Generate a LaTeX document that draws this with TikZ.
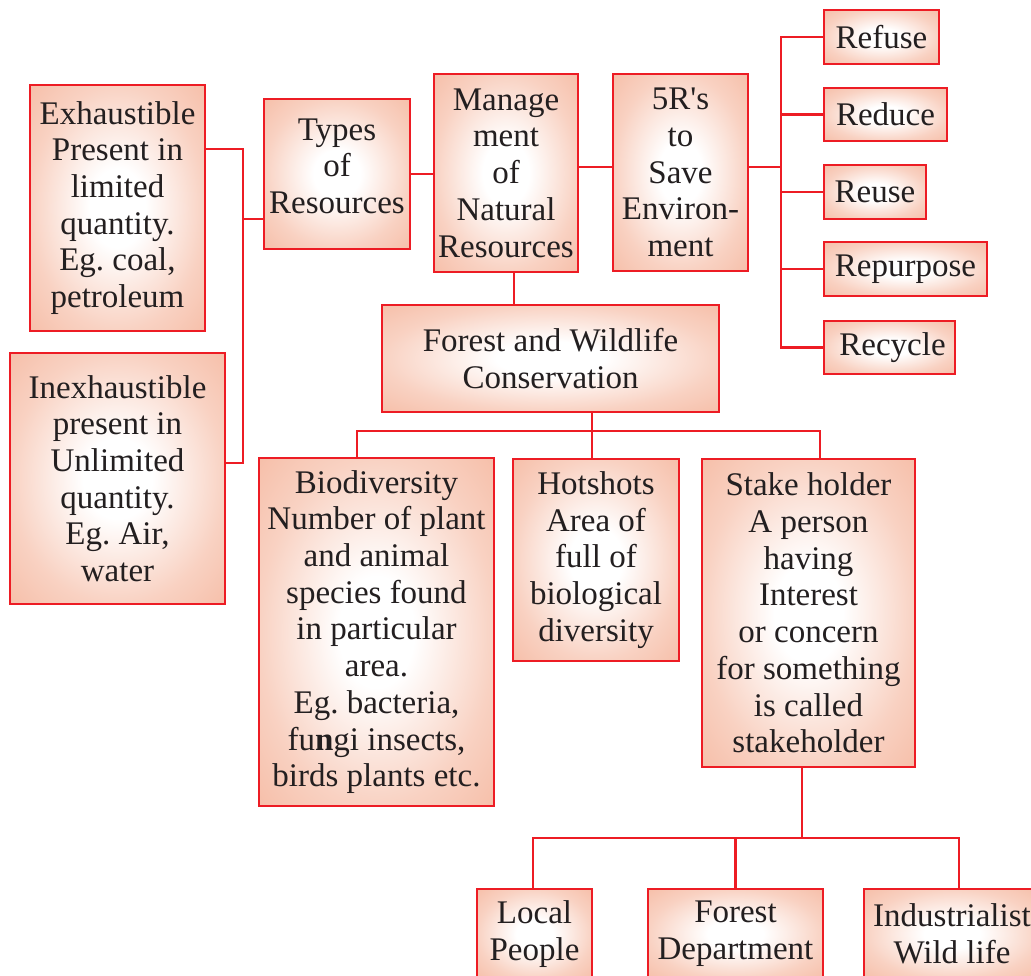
\documentclass[tikz,border=0pt]{standalone}
\usepackage{fontspec}
\setmainfont{Liberation Serif}[Ligatures=TeXOff]
\frenchspacing
\definecolor{lred}{RGB}{237,28,36}
\definecolor{salmon}{RGB}{246,190,168}
\definecolor{txt}{RGB}{35,31,32}
\pgfdeclareradialshading{boxshade}{\pgfpoint{0bp}{0bp}}{color(0bp)=(white); color(8bp)=(white); color(25bp)=(salmon!70!white); color(36bp)=(salmon); color(50bp)=(salmon)}
\tikzset{
  box/.style={draw=lred, line width=2.2pt, shade, shading=boxshade, inner sep=0pt, align=center, text=txt,
    font=\fontsize{33}{36.7}\selectfont},
  conn/.style={draw=lred, line width=2.2pt}
}
\begin{document}
\begin{tikzpicture}[x=1pt,y=-1pt]
\useasboundingbox (0,0) rectangle (1031,975);
\clip (0,0) rectangle (1031,975);
% nodes
\node[box, minimum width=175, minimum height=246] (exh) at (117.5,208) {Exhaustible\\Present in\\limited\\quantity.\\Eg. coal,\\petroleum};
\node[box, minimum width=215, minimum height=251] (inex) at (117.5,478.5) {Inexhaustible\\present in\\Unlimited\\quantity.\\Eg. Air,\\water};
\node[box, minimum width=146, minimum height=150, text depth=16pt] (types) at (337,174) {Types\\of\\Resources};
\node[box, minimum width=144, minimum height=198] (mgmt) at (506,173) {Manage\\ment\\of\\Natural\\Resources};
\node[box, minimum width=135, minimum height=197] (five) at (680.5,172.5) {5R's\\to\\Save\\Environ-\\ment};
\node[box, minimum width=115, minimum height=54] (refuse) at (881.5,37) {Refuse};
\node[box, minimum width=123, minimum height=53] (reduce) at (885.5,114.5) {Reduce};
\node[box, minimum width=102, minimum height=54] (reuse) at (875,192) {Reuse};
\node[box, minimum width=163, minimum height=54] (repurpose) at (905.5,269) {Repurpose};
\node[box, minimum width=131, minimum height=53] (recycle) at (889.5,347.5) {\hspace{6pt}Recycle};
\node[box, minimum width=337, minimum height=107] (forest) at (550.5,358.5) {Forest and Wildlife\\Conservation};
\node[box, minimum width=235, minimum height=348] (bio) at (376.5,632) {Biodiversity\\Number of plant\\and animal\\species found\\in particular\\area.\\Eg. bacteria,\\fu\textbf{n}gi insects,\\birds plants etc.};
\node[box, minimum width=166, minimum height=202] (hot) at (596,560) {Hotshots\\Area of\\full of\\biological\\diversity};
\node[box, minimum width=213, minimum height=308] (stake) at (808.5,613) {Stake holder\\A person\\having\\Interest\\or concern\\for something\\is called\\stakeholder};
\node[box, minimum width=115, minimum height=90] (local) at (534.5,934) {Local\\People};
\node[box, minimum width=175, minimum height=90] (fdept) at (735.5,934) {Forest\\Department};
\node[box, minimum width=176, minimum height=90] (indus) at (952,934) {Industrialist\\Wild life};
% coordinates
\coordinate (lt) at (243,149);
\coordinate (lm) at (243,219);
\coordinate (lb) at (243,463);
\coordinate (c5) at (781,167);
\coordinate (mb) at (592,431);
\coordinate (bl) at (357,431);
\coordinate (br) at (820,431);
\coordinate (sb) at (802,838);
\coordinate (bbl) at (533,838);
\coordinate (bbr) at (959,838);
% connectors
\draw[conn] (exh.east |- lt) -- (lt) -- (lb) -- (inex.east |- lb);
\draw[conn] (lm) -- (types.west |- lm);
\draw[conn] (types.east) -- (mgmt.west |- types.east);
\draw[conn] (mgmt.east |- c5) -- (five.west |- c5);
\draw[conn] (five.east |- c5) -- (c5);
\draw[conn] (refuse.west) -- (refuse.west -| c5) -- (recycle.west -| c5) -- (recycle.west);
\draw[conn] (reduce.west -| c5) -- (reduce.west);
\draw[conn] (reuse.west -| c5) -- (reuse.west);
\draw[conn] (repurpose.west -| c5) -- (repurpose.west);
\draw[conn] ([xshift=8pt]mgmt.south) -- ([xshift=8pt]mgmt.south |- forest.north);
\draw[conn] (forest.south -| mb) -- (hot.north -| mb);
\draw[conn] (bio.north -| bl) -- (bl) -- (br) -- (stake.north -| br);
\draw[conn] (stake.south -| sb) -- (sb);
\draw[conn] (local.north -| bbl) -- (bbl) -- (bbr) -- (indus.north -| bbr);
\draw[conn] (fdept.north) -- (fdept.north |- bbl);
\end{tikzpicture}
\end{document}
